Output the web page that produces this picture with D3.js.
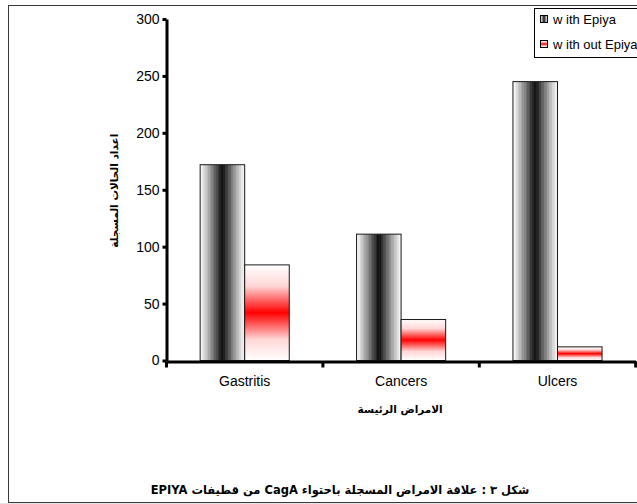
<!DOCTYPE html>
<html>
<head>
<meta charset="utf-8">
<script src="https://cdn.jsdelivr.net/npm/d3@7/dist/d3.min.js"></script>
<style>
  html, body { margin: 0; padding: 0; background: #fff; }
  svg { display: block; }
  text { font-family: "Liberation Sans", Arial, "DejaVu Sans", sans-serif; fill: #000; }
  .ar { font-family: "DejaVu Sans", "Liberation Sans", sans-serif; font-weight: bold; }
</style>
</head>
<body>
<svg id="chart" width="637" height="504"></svg>
<script>
// Disease categories and case counts per CagA EPIYA status
const categories = ["Gastritis", "Cancers", "Ulcers"];
const seriesNames = ["w ith Epiya", "w ith out Epiya"];
const withEpiya = [172, 111, 245];
const withoutEpiya = [84, 36, 12];
const yTicks = [0, 50, 100, 150, 200, 250, 300];

const yTitle = "اعداد الحالات المسجلة";
const xTitle = "الامراض الرئيسة";
const caption = "شكل ٣ : علاقة الامراض المسجلة باحتواء CagA  من قطيفات EPIYA";

const rows = categories.map((c, i) => ({
  cat: c,
  values: [
    { key: seriesNames[0], idx: 0, v: withEpiya[i] },
    { key: seriesNames[1], idx: 1, v: withoutEpiya[i] }
  ]
}));

const svg = d3.select("#chart");
const W = 637, H = 504;

// Outer frame of the figure
svg.append("rect").attr("x", 0).attr("y", 503).attr("width", W).attr("height", 1).attr("fill", "#e6e6e6");
svg.append("rect")
  .attr("x", 8.5).attr("y", 5.5).attr("width", W).attr("height", 497)
  .attr("fill", "none").attr("stroke", "#3a3a3a").attr("stroke-width", 1);

const defs = svg.append("defs");

// Banded horizontal gradient for the grey bars: light edges, dark centre
const greyGrad = defs.append("linearGradient").attr("id", "greyBand")
  .attr("x1", 0).attr("x2", 1).attr("y1", 0).attr("y2", 0);
const steps = 14;
const greyAt = d3.interpolateRgb("#f6f6f6", "#141414");
const greyStops = [];
for (let s = 0; s < steps; s++) {
  const c = greyAt(Math.pow(s / (steps - 1), 1.1));
  const a = (s / steps) * 0.5, b = ((s + 1) / steps) * 0.5;
  greyStops.push([a, c], [b, c], [1 - b, c], [1 - a, c]);
}
greyStops.sort((p, q) => p[0] - q[0]);
greyGrad.selectAll("stop").data(greyStops).join("stop")
  .attr("offset", d => d[0]).attr("stop-color", d => d[1]);

// Vertical gradient for the red bars: white at top and bottom, red in the middle
const redGrad = defs.append("linearGradient").attr("id", "redBand")
  .attr("x1", 0).attr("x2", 0).attr("y1", 0).attr("y2", 1);
[[0, "#ffffff"], [0.22, "#ffd6d6"], [0.5, "#ff0000"], [0.78, "#ffd6d6"], [1, "#ffffff"]]
  .forEach(([o, c]) => redGrad.append("stop").attr("offset", o).attr("stop-color", c));

const fills = ["url(#greyBand)", "url(#redBand)"];

// Scales
const x0 = d3.scaleBand().domain(categories).range([166.5, 635.7]).paddingInner(0).paddingOuter(0);
const x1 = d3.scaleBand().domain(seriesNames).range([0, x0.bandwidth()]).paddingInner(0).paddingOuter(0.755);
const y = d3.scaleLinear().domain([0, 300]).range([360.5, 19]);

// Bars
const groups = svg.append("g").selectAll("g").data(rows).join("g")
  .attr("transform", d => `translate(${x0(d.cat)},0)`);
groups.selectAll("rect").data(d => d.values).join("rect")
  .attr("x", d => x1(d.key))
  .attr("y", d => y(d.v))
  .attr("width", x1.bandwidth())
  .attr("height", d => y(0) - y(d.v))
  .attr("fill", d => fills[d.idx])
  .attr("stroke", "#1a1a1a")
  .attr("stroke-width", 1);

// Y axis
const yAxis = svg.append("g").attr("transform", `translate(${x0.range()[0]},0)`)
  .call(d3.axisLeft(y).tickValues(yTicks).tickSize(4).tickSizeOuter(0).tickPadding(3));
yAxis.select(".domain").attr("stroke", "#000").attr("stroke-width", 3);
yAxis.selectAll(".tick line").attr("stroke", "#000").attr("stroke-width", 3);
yAxis.selectAll(".tick text").attr("font-size", 14).attr("font-family", "Liberation Sans, Arial, sans-serif");

// X axis: labels centred in the bands, tick marks on band boundaries
const xAxis = svg.append("g").attr("transform", `translate(0,${y(0) + 1})`)
  .call(d3.axisBottom(x0).tickSize(0).tickPadding(15));
xAxis.select(".domain").attr("stroke", "#000").attr("stroke-width", 3);
xAxis.selectAll(".tick text").attr("font-size", 14).attr("font-family", "Liberation Sans, Arial, sans-serif");
const boundaries = categories.map(c => x0(c)).concat([x0.range()[1]]);
xAxis.selectAll(".bound").data(boundaries).join("line").attr("class", "bound")
  .attr("x1", d => d).attr("x2", d => d).attr("y1", 0).attr("y2", 6)
  .attr("stroke", "#000").attr("stroke-width", 3);

// Axis titles
svg.append("text").attr("class", "ar")
  .attr("transform", `translate(118,${(y(0) + y(300)) / 2 + 1}) rotate(-90)`)
  .attr("text-anchor", "middle").attr("direction", "rtl")
  .attr("font-size", 10.5).text(yTitle);

svg.append("text").attr("class", "ar")
  .attr("x", (x0.range()[0] + x0.range()[1]) / 2 - 1).attr("y", 413)
  .attr("text-anchor", "middle").attr("direction", "rtl")
  .attr("font-size", 10.5).text(xTitle);

// Figure caption
svg.append("text").attr("class", "ar")
  .attr("x", 340).attr("y", 494)
  .attr("text-anchor", "middle").attr("direction", "rtl")
  .attr("font-size", 11.5).text(caption);

// Legend
const legend = svg.append("g");
legend.append("rect").attr("x", 534.5).attr("y", 8.5).attr("width", 120).attr("height", 49)
  .attr("fill", "#fff").attr("stroke", "#000").attr("stroke-width", 1);
const items = legend.selectAll("g.item").data(seriesNames).join("g").attr("class", "item")
  .attr("transform", (d, i) => `translate(540,${19 + i * 25})`);
items.append("rect").attr("x", 0.5).attr("y", -3.5).attr("width", 7).attr("height", 7)
  .attr("fill", (d, i) => fills[i]).attr("stroke", "#000").attr("stroke-width", 1);
items.append("text").attr("x", 13).attr("y", 4.5).attr("font-size", 13).text(d => d);
</script>
</body>
</html>
